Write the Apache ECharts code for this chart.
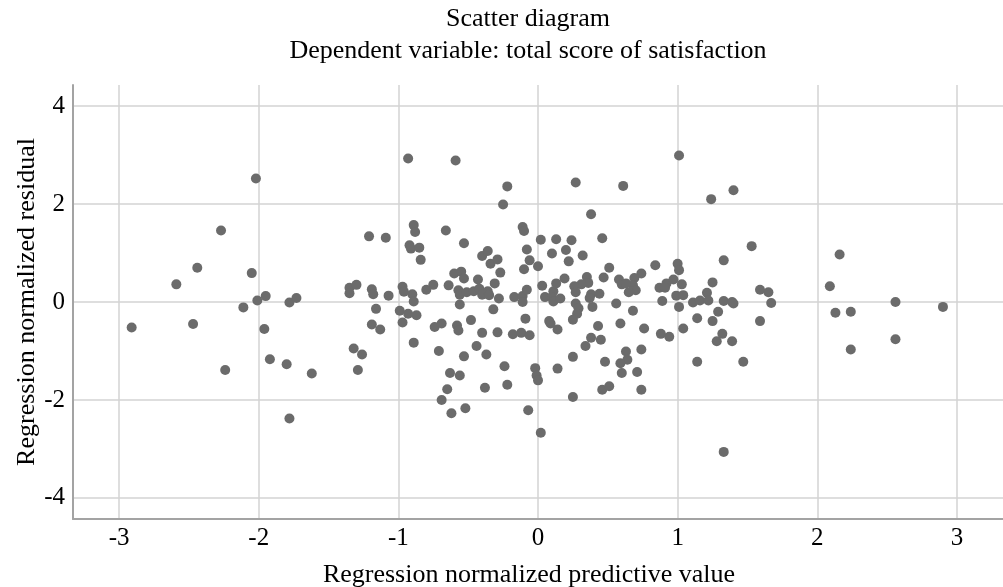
<!DOCTYPE html>
<html>
<head>
<meta charset="utf-8">
<title>Scatter diagram</title>
<script src="https://cdn.jsdelivr.net/npm/echarts@6/dist/echarts.min.js"></script>
<style>
    html, body { margin: 0; padding: 0; background: #fff; }
    #chart { width: 1003px; height: 587px; }
</style>
</head>
<body>
<div id="chart"></div>
<script>
// regression normalized predictive value (x) / normalized residual (y)
var predicted = [
    -2.91, -2.59, -2.47, -2.44, -2.27, -2.24, -2.11, -2.05, -2.02, -2.01,
    -1.95, -1.96, -1.92, -1.80, -1.78, -1.73, -1.78, -1.62, -1.35, -1.30,
    -1.35, -1.32, -1.26, -1.29, -1.21, -1.19, -1.18, -1.16, -1.19, -1.13,
    -1.09, -1.07, -0.99, -0.97, -0.93, -0.87, -0.89, -0.93, -0.59, -0.22,
    -0.25, -0.89, -0.88, -0.92, -0.91, -0.85, -0.84, -0.66, -0.53, -0.40,
    -0.36, -0.34, -0.29, -0.27, -0.31, -0.11, -0.10, -0.08, -0.06, -0.10,
    0.00, 0.02, -0.60, -0.55, -0.53, -0.64, -0.75, -0.80, -0.97, -0.96,
    -0.90, -0.89, -0.43, -0.28, -0.17, -0.11, -0.11, -0.08, -0.56, -0.32,
    -0.57, -0.56, -0.51, -0.46, -0.42, -0.40, -0.36, -0.35, -0.09, -0.48,
    -0.74, -0.69, -0.58, -0.57, -0.40, -0.29, -0.18, -0.12, -0.06, -0.71,
    -0.53, -0.44, -0.37, -0.24, -0.22, -0.38, -0.63, -0.56, -0.65, -0.69,
    -0.62, -0.52, -0.07, 0.02, -0.02, -0.01, 0.00, 0.03, 0.05, 0.11,
    0.10, 0.11, 0.13, 0.10, 0.13, 0.08, 0.09, 0.14, 0.14, 0.27,
    0.61, 1.01, 1.24, 0.38, 0.24, 0.46, 0.20, 0.22, 0.32, 0.51,
    0.84, 1.00, 1.01, 1.03, 0.99, 1.04, 1.01, 1.25, 0.89, 0.74,
    0.69, 0.68, 0.70, 0.65, 0.58, 0.60, 0.63, 0.47, 0.35, 0.36,
    0.31, 0.26, 0.27, 0.19, 0.16, 0.38, 0.44, 0.37, 0.39, 0.27,
    0.29, 0.28, 0.56, 0.68, 0.87, 0.92, 0.91, 0.97, 1.11, 1.16,
    1.21, 1.22, 1.14, 1.25, 1.29, 0.25, 1.28, 1.14, 0.43, 0.59,
    0.76, 0.88, 0.94, 1.04, 0.38, 0.45, 0.34, 0.25, 0.48, 0.63,
    0.64, 0.59, 0.60, 0.74, 0.71, 0.46, 0.51, 0.74, 0.25, 1.40,
    1.53, 1.33, 1.33, 1.39, 1.40, 1.59, 1.65, 1.67, 1.32, 1.39,
    1.59, 1.47, 1.33, 2.16, 2.09, 2.13, 2.24, 2.56, 2.90, 2.56,
    2.24
];
var residual = [
    -0.52, 0.36, -0.45, 0.70, 1.46, -1.39, -0.11, 0.59, 2.52, 0.03,
    0.12, -0.55, -1.17, -1.27, -0.01, 0.08, -2.38, -1.46, 0.29, 0.35,
    0.18, -0.95, -1.07, -1.39, 1.34, 0.26, 0.16, -0.14, -0.46, -0.56,
    1.31, 0.13, -0.18, -0.42, -0.24, -0.27, -0.83, 2.93, 2.89, 2.36,
    1.99, 1.57, 1.43, 1.16, 1.09, 1.11, 0.86, 1.46, 1.20, 0.94,
    1.04, 0.78, 0.87, 0.60, 0.38, 1.53, 1.45, 1.07, 0.85, 0.67,
    0.73, 1.27, 0.58, 0.62, 0.48, 0.34, 0.35, 0.25, 0.31, 0.21,
    0.16, 0.01, 0.46, 0.07, 0.10, 0.12, 0.00, 0.25, -0.05, -0.15,
    0.24, 0.15, 0.20, 0.22, 0.27, 0.15, 0.22, 0.14, -0.34, -0.37,
    -0.51, -0.44, -0.48, -0.58, -0.63, -0.62, -0.66, -0.63, -0.68, -1.00,
    -1.11, -0.90, -1.07, -1.31, -1.69, -1.75, -1.45, -1.50, -1.78, -2.00,
    -2.27, -2.17, -2.21, -2.67, -1.35, -1.50, -1.60, 0.33, 0.10, 0.22,
    0.10, 0.01, 0.38, 0.99, 1.28, -0.39, -0.44, -0.56, -1.36, 2.44,
    2.37, 2.99, 2.10, 1.79, 1.26, 1.30, 1.06, 0.83, 0.95, 0.70,
    0.75, 0.78, 0.65, 0.36, 0.13, 0.14, -0.10, 0.40, 0.02, 0.58,
    0.49, 0.34, 0.24, 0.20, 0.46, 0.36, 0.38, 0.50, 0.51, 0.39,
    0.36, 0.32, 0.20, 0.48, 0.07, 0.16, 0.17, 0.08, -0.10, -0.03,
    -0.13, -0.24, -0.03, -0.18, 0.29, 0.38, 0.29, 0.46, -0.01, 0.03,
    0.19, 0.03, -0.33, -0.39, -0.20, -0.36, -0.80, -1.22, -0.49, -0.44,
    -0.54, -0.65, -0.71, -0.54, -0.73, -0.77, -0.90, -1.12, -1.22, -1.01,
    -1.18, -1.25, -1.45, -0.97, -1.43, -1.79, -1.72, -1.79, -1.94, 2.28,
    1.14, 0.85, 0.02, 0.00, -0.03, 0.25, 0.20, -0.02, -0.65, -0.80,
    -0.39, -1.22, -3.06, 0.97, 0.32, -0.22, -0.20, 0.00, -0.10, -0.76,
    -0.97
];
var xTicks = [-3, -2, -1, 0, 1, 2, 3];
var yTicks = [-4, -2, 0, 2, 4];

var font = '"Liberation Serif", "Times New Roman", serif';
var gridColor = '#d3d3d3';
var axisColor = '#a3a3a3';

var points = [];
for (var i = 0; i < predicted.length; i++) {
    points.push([predicted[i], residual[i]]);
}

var chart = echarts.init(document.getElementById('chart'), null, {renderer: 'canvas'});
var option = {
    animation: false,
    backgroundColor: '#fff',
    graphic: [{
        type: 'text',
        x: 528, y: 19,
        style: {text: 'Scatter diagram', font: '26px ' + font, fill: '#000', align: 'center', verticalAlign: 'middle'}
    }, {
        type: 'text',
        x: 528, y: 51,
        style: {text: 'Dependent variable: total score of satisfaction', font: '26px ' + font, fill: '#000', align: 'center', verticalAlign: 'middle'}
    }],
    // keep the plot box fixed, labels may sit close to the edges
    grid: {left: 73, right: 0, top: 85, bottom: 68, containLabel: false, outerBoundsMode: 'none'},
    xAxis: {
        type: 'value',
        min: -3.33,
        max: 3.33,
        name: 'Regression normalized predictive value',
        nameLocation: 'middle',
        nameGap: 43,
        nameMoveOverlap: false,
        nameTextStyle: {fontFamily: font, fontSize: 26, color: '#000', padding: [0, 18, 0, 0]},
        axisLine: {show: true, onZero: false, lineStyle: {color: axisColor, width: 2}},
        axisTick: {show: false, customValues: xTicks},
        axisLabel: {customValues: xTicks, fontFamily: font, fontSize: 25, color: '#000', margin: 7},
        splitLine: {show: true, lineStyle: {color: gridColor, width: 1.5}}
    },
    yAxis: {
        type: 'value',
        min: -4.43,
        max: 4.43,
        name: 'Regression normalized residual',
        nameLocation: 'middle',
        nameGap: 33,
        nameRotate: 90,
        nameMoveOverlap: false,
        nameTextStyle: {fontFamily: font, fontSize: 26, color: '#000'},
        axisLine: {show: true, onZero: false, lineStyle: {color: axisColor, width: 2}},
        axisTick: {show: false, customValues: yTicks},
        axisLabel: {customValues: yTicks, fontFamily: font, fontSize: 25, color: '#000', margin: 8},
        splitLine: {show: true, lineStyle: {color: gridColor, width: 1.5}}
    },
    series: [{
        type: 'scatter',
        symbol: 'circle',
        symbolSize: 10,
        itemStyle: {color: '#6b6b6b', opacity: 1},
        data: points
    }]
};
chart.setOption(option);
</script>
</body>
</html>
